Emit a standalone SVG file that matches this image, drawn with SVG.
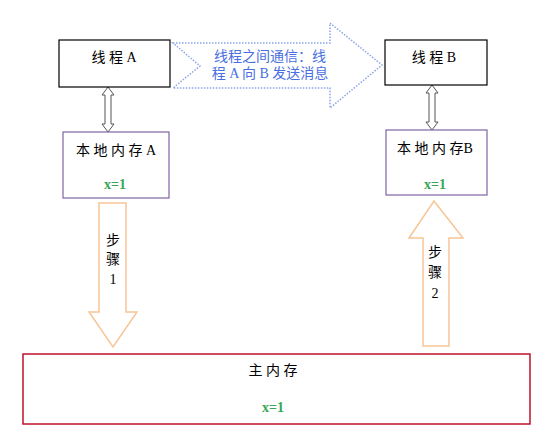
<svg xmlns="http://www.w3.org/2000/svg" width="547" height="445" viewBox="0 0 547 445">
<style>
  text { font-family: "Liberation Serif", "Noto Sans CJK SC", serif; text-anchor: middle; dominant-baseline: central; }
  .lbl { font-size: 14px; fill: #000; }
  .val { font-size: 14px; fill: #3aa655; font-weight: bold; }
  .blue { font-size: 14px; fill: #4a6fe0; }
  .thread { fill: #fff; stroke: #000; stroke-width: 1.2; }
  .local { fill: #fff; stroke: #8064a2; stroke-width: 1.2; }
  .main { fill: #fff; stroke: #c0102a; stroke-width: 1.5; }
  .dbl { fill: #fff; stroke: #555; stroke-width: 1; }
  .step { fill: #fff; stroke: #f8c596; stroke-width: 1.5; }
  .comm { fill: #fff; stroke: #8ea4e6; stroke-width: 1.5; stroke-dasharray: 1.5 1.5; }
</style>
<rect width="547" height="445" fill="#fff"/>
<g id="connectors">
  <path class="comm" d="M173,43 L330,43 L330,23 L382,65 L330,108 L330,88 L173,88 L200,66 Z"/>
  <path class="dbl" d="M108,87 L114,95 L111,95 L111,124 L114,124 L108,132 L102,124 L105,124 L105,95 L102,95 Z"/>
  <path class="dbl" d="M432,85 L438,93 L435,93 L435,122 L438,122 L432,130 L426,122 L429,122 L429,93 L426,93 Z"/>
  <path class="step" d="M99,203 L126,203 L126,312 L137,312 L113,347 L89,312 L99,312 Z"/>
  <path class="step" d="M434,201 L463,238 L449,238 L449,346 L423,346 L423,238 L409,238 Z"/>
</g>
<g id="comm-label">
  <text class="blue" x="270" y="56">线程之间通信：线</text>
  <text class="blue" x="270" y="73">程 A 向 B 发送消息</text>
</g>
<g id="threadA">
  <rect class="thread" x="59" y="40" width="111" height="47"/>
  <text class="lbl" x="114" y="57">线  程  A</text>
</g>
<g id="threadB">
  <rect class="thread" x="385" y="40" width="102" height="45"/>
  <text class="lbl" x="434" y="57">线  程  B</text>
</g>
<g id="localA">
  <rect class="local" x="63" y="132" width="106" height="66"/>
  <text class="lbl" x="116" y="150">本 地 内 存 A</text>
  <text class="val" x="115" y="184">x=1</text>
</g>
<g id="localB">
  <rect class="local" x="386" y="130" width="101" height="65"/>
  <text class="lbl" x="435" y="148">本 地 内 存B</text>
  <text class="val" x="435" y="184">x=1</text>
</g>
<g id="step1">
  <text class="lbl" x="113" y="240">步</text>
  <text class="lbl" x="113" y="259">骤</text>
  <text class="lbl" x="113" y="279">1</text>
</g>
<g id="step2">
  <text class="lbl" x="435" y="252">步</text>
  <text class="lbl" x="435" y="272">骤</text>
  <text class="lbl" x="435" y="293">2</text>
</g>
<g id="mainMemory">
  <rect class="main" x="23" y="354" width="507" height="70"/>
  <text class="lbl" x="273" y="370">主 内 存</text>
  <text class="val" x="273" y="407">x=1</text>
</g>
</svg>
